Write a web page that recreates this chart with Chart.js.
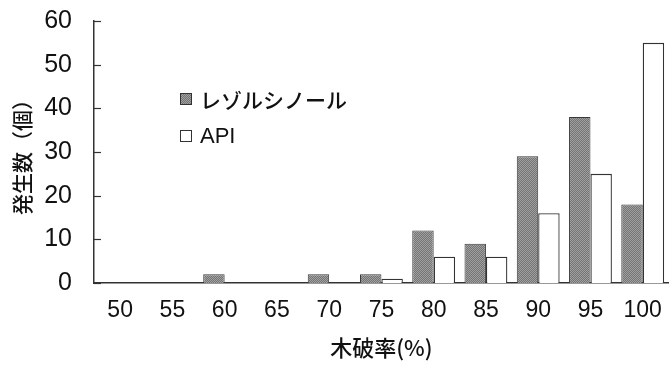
<!DOCTYPE html>
<html>
<head>
<meta charset="utf-8">
<script src="https://cdn.jsdelivr.net/npm/chart.js@4.4.0/dist/chart.umd.min.js"></script>
<style>
  html, body { margin: 0; padding: 0; background: #fff; overflow: hidden; }
  #wrap { position: relative; width: 676px; height: 366px; }
</style>
</head>
<body>
<div id="wrap"><canvas id="woodChart"></canvas></div>
<script>
// data
var categories = ["50", "55", "60", "65", "70", "75", "80", "85", "90", "95", "100"];
var resorcinol = [0, 0, 2, 0, 2, 2, 12, 9, 29, 38, 18];   // レゾルシノール
var api = [0, 0, 0, 0, 0, 1, 6, 6, 16, 25, 55];            // API
var seriesNames = ["レゾルシノール", "API"];
var yTicks = [0, 10, 20, 30, 40, 50, 60];

var numFont = "'Liberation Sans', Arial, sans-serif";
var jpFont = "'Noto Sans CJK JP', sans-serif";

// grey dither like the scanned bars
function makeDither() {
    var c = document.createElement('canvas');
    c.width = 2; c.height = 2;
    var g = c.getContext('2d');
    g.fillStyle = '#747474'; g.fillRect(0, 0, 2, 2);
    g.fillStyle = '#a0a0a0'; g.fillRect(0, 0, 1, 1); g.fillRect(1, 1, 1, 1);
    return g.createPattern(c, 'repeat');
}
var dither = makeDither();

// y ticks point into the plot
var innerTicks = {
    id: 'innerTicks',
    afterDraw(chart) {
        var y = chart.scales.y, ctx = chart.ctx;
        var x0 = chart.chartArea.left;
        ctx.save();
        ctx.strokeStyle = '#333';
        ctx.lineWidth = 1.2;
        yTicks.forEach(v => {
            var py = Math.round(y.getPixelForValue(v)) + 0.5;
            ctx.beginPath();
            ctx.moveTo(x0, py);
            ctx.lineTo(x0 + 7, py);
            ctx.stroke();
        });
        ctx.restore();
    }
};

// legend sitting inside the plot
var boxLegend = {
    id: 'boxLegend',
    afterDraw(chart) {
        var ctx = chart.ctx;
        var x = 180, y = 99, gap = 37;
        ctx.save();
        chart.data.datasets.forEach((ds, i) => {
            var cy = y + i * gap;
            ctx.fillStyle = ds.backgroundColor;
            ctx.fillRect(x, cy - 6, 12, 12);
            ctx.strokeStyle = '#333';
            ctx.lineWidth = 1;
            ctx.strokeRect(x + 0.5, cy - 5.5, 11, 11);
            ctx.fillStyle = '#111';
            ctx.textBaseline = 'middle';
            ctx.font = i == 0 ? "500 21px " + jpFont : "22px " + numFont;
            ctx.fillText(ds.label, x + 20, cy + 1);
        });
        ctx.restore();
    }
};

const ctx = document.getElementById('woodChart').getContext('2d');

var woodChart = new Chart(ctx, {
    type: 'bar',
    data: {
        labels: categories,
        datasets: [{
            label: seriesNames[0],
            data: resorcinol,
            backgroundColor: dither,
            borderColor: '#3a3a3a',
            borderWidth: 1,
            borderSkipped: 'bottom'
        }, {
            label: seriesNames[1],
            data: api,
            backgroundColor: '#ffffff',
            borderColor: '#333333',
            borderWidth: 1.3,
            borderSkipped: 'bottom'
        }]
    },
    options: {
        responsive: true,
        maintainAspectRatio: false,
        animation: false,
        layout: { padding: { top: 21, right: 2, left: 0, bottom: 0 } },
        datasets: {
            bar: { categoryPercentage: 0.82, barPercentage: 1.0 }
        },
        plugins: {
            legend: { display: false },
            tooltip: { enabled: false }
        },
        scales: {
            x: {
                grid: { display: false, drawTicks: false },
                border: { display: true, color: '#333', width: 1.5 },
                ticks: {
                    color: '#111',
                    font: { family: numFont, size: 23 },
                    padding: 14,
                    maxRotation: 0,
                    autoSkip: false
                },
                title: {
                    display: true,
                    text: '木破率(%)',
                    color: '#111',
                    font: { family: jpFont, size: 22, weight: '500' },
                    padding: { top: 0, bottom: 5 }
                },
                afterFit(scale) { scale.height = 83; }
            },
            y: {
                min: 0,
                max: 60,
                grid: { display: false, drawTicks: false },
                border: { display: true, color: '#333', width: 1.5 },
                ticks: {
                    stepSize: 10,
                    color: '#111',
                    font: { family: numFont, size: 25 },
                    padding: 22
                },
                title: {
                    display: true,
                    text: '発生数（個）',
                    color: '#111',
                    font: { family: jpFont, size: 21, weight: '500' },
                    padding: { top: 9, bottom: 0 }
                },
                afterFit(scale) {
                    scale.width = 94;
                    scale.paddingTop = 0;
                    scale.paddingBottom = 0;
                }
            }
        }
    },
    plugins: [innerTicks, boxLegend]
});
</script>
</body>
</html>
